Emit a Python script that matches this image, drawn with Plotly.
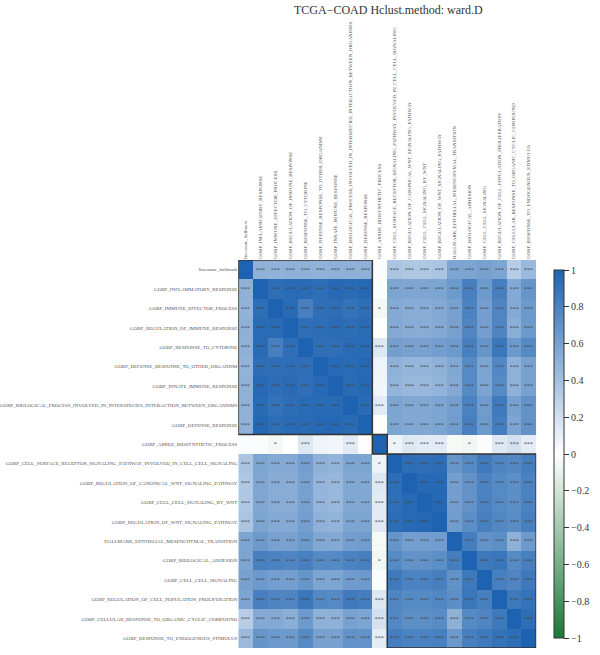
import plotly.graph_objects as go

labels = [
    "Itaconate_hallmark",
    "GOBP_INFLAMMATORY_RESPONSE",
    "GOBP_IMMUNE_EFFECTOR_PROCESS",
    "GOBP_REGULATION_OF_IMMUNE_RESPONSE",
    "GOBP_RESPONSE_TO_CYTOKINE",
    "GOBP_DEFENSE_RESPONSE_TO_OTHER_ORGANISM",
    "GOBP_INNATE_IMMUNE_RESPONSE",
    "GOBP_BIOLOGICAL_PROCESS_INVOLVED_IN_INTERSPECIES_INTERACTION_BETWEEN_ORGANISMS",
    "GOBP_DEFENSE_RESPONSE",
    "GOBP_AMIDE_BIOSYNTHETIC_PROCESS",
    "GOBP_CELL_SURFACE_RECEPTOR_SIGNALING_PATHWAY_INVOLVED_IN_CELL_CELL_SIGNALING",
    "GOBP_REGULATION_OF_CANONICAL_WNT_SIGNALING_PATHWAY",
    "GOBP_CELL_CELL_SIGNALING_BY_WNT",
    "GOBP_REGULATION_OF_WNT_SIGNALING_PATHWAY",
    "HALLMARK_EPITHELIAL_MESENCHYMAL_TRANSITION",
    "GOBP_BIOLOGICAL_ADHESION",
    "GOBP_CELL_CELL_SIGNALING",
    "GOBP_REGULATION_OF_CELL_POPULATION_PROLIFERATION",
    "GOBP_CELLULAR_RESPONSE_TO_ORGANIC_CYCLIC_COMPOUND",
    "GOBP_RESPONSE_TO_ENDOGENOUS_STIMULUS",
]

corr = [
    [1.00, .50, .49, .50, .50, .49, .50, .50, .50, .02, .38, .36, .36, .38, .58, .58, .60, .58, .32, .45],
    [.50, 1.00, .93, .95, .95, .93, .96, .95, .97, .02, .58, .57, .57, .58, .65, .82, .65, .82, .55, .68],
    [.49, .93, 1.00, .95, .82, .92, .93, .90, .93, -.05, .55, .53, .53, .55, .60, .80, .62, .78, .55, .65],
    [.50, .95, .95, 1.00, .92, .93, .95, .93, .95, .00, .55, .53, .53, .55, .60, .78, .62, .78, .52, .65],
    [.50, .95, .82, .92, 1.00, .92, .92, .95, .95, .15, .62, .60, .60, .62, .65, .82, .68, .87, .65, .75],
    [.49, .93, .92, .93, .92, 1.00, .96, .95, .96, .07, .50, .47, .47, .50, .56, .75, .58, .76, .50, .60],
    [.50, .96, .93, .95, .92, .96, 1.00, .95, .97, .06, .48, .46, .46, .48, .55, .75, .58, .75, .50, .60],
    [.50, .95, .90, .93, .95, .95, .95, 1.00, .95, .13, .58, .56, .56, .58, .62, .80, .64, .85, .60, .70],
    [.50, .97, .93, .95, .95, .96, .97, .95, 1.00, .01, .58, .56, .56, .58, .63, .82, .65, .83, .58, .70],
    [.02, .02, -.05, .00, .15, .07, .06, .13, .01, 1.00, .08, .15, .13, .13, -.04, -.06, .02, .15, .20, .12],
    [.38, .58, .55, .55, .62, .50, .48, .58, .58, .08, 1.00, .93, .92, .93, .68, .75, .85, .78, .76, .83],
    [.36, .57, .53, .53, .60, .47, .46, .56, .56, .15, .93, 1.00, .96, .96, .62, .70, .80, .75, .72, .80],
    [.36, .57, .53, .53, .60, .47, .46, .56, .56, .13, .92, .96, 1.00, .97, .62, .70, .80, .75, .72, .80],
    [.38, .58, .55, .55, .62, .50, .48, .58, .58, .13, .93, .96, .97, 1.00, .63, .72, .82, .77, .74, .82],
    [.58, .65, .60, .60, .65, .56, .55, .62, .63, -.04, .68, .62, .62, .63, 1.00, .83, .70, .72, .50, .65],
    [.58, .82, .80, .78, .82, .75, .75, .80, .82, -.06, .75, .70, .70, .72, .83, 1.00, .86, .88, .75, .82],
    [.60, .65, .62, .62, .68, .58, .58, .64, .65, .02, .85, .80, .80, .82, .70, .86, 1.00, .82, .78, .85],
    [.58, .82, .78, .78, .87, .76, .75, .85, .83, .15, .78, .75, .75, .77, .72, .88, .82, 1.00, .86, .90],
    [.32, .55, .55, .52, .65, .50, .50, .60, .58, .20, .76, .72, .72, .74, .50, .75, .78, .86, 1.00, .93],
    [.45, .68, .65, .65, .75, .60, .60, .70, .70, .12, .83, .80, .80, .82, .65, .82, .85, .90, .93, 1.00],
]

# significance stars for the AMIDE row/column (index 9); all others "***"
sig_amide = ["", "", "*", "", "***", "", "", "***", "", "", "*", "***", "***", "***", "", "*", "", "***", "***", "***"]
amide_idx = 9

# hclust clusters (start, end index)
clusters = [(0, 8), (9, 9), (10, 19)]

n = len(labels)
sig = []
for i in range(n):
    row = []
    for j in range(n):
        if i == j:
            row.append("")
        elif i == amide_idx:
            row.append(sig_amide[j])
        elif j == amide_idx:
            row.append(sig_amide[i])
        else:
            row.append("***")
    sig.append(row)

idx = list(range(n))
W, H = 600, 655
x0p, x1p = 242, 555
y0p, y1p = 260, 648

fig = go.Figure(go.Heatmap(
    z=corr, x=idx, y=idx, text=sig, texttemplate="%{text}",
    textfont=dict(family="Liberation Serif", size=6, color="#444"),
    zmin=-1, zmax=1,
    colorscale=[[0, "rgb(27,120,55)"], [0.5, "rgb(255,255,255)"], [1, "rgb(30,99,177)"]],
    hoverinfo="skip",
    colorbar=dict(
        x=563 / W, xanchor="left", y=1 - y1p / H, yanchor="bottom",
        len=(y1p - y0p) / H, lenmode="fraction", thickness=10, thicknessmode="pixels",
        outlinewidth=1, outlinecolor="#333",
        tickmode="array", tickvals=[-1, -0.8, -0.6, -0.4, -0.2, 0, 0.2, 0.4, 0.6, 0.8, 1],
        ticks="outside", ticklen=5, tickcolor="#333",
        tickfont=dict(family="Liberation Serif", size=10, color="#333"),
    ),
))

for a, b in clusters:
    fig.add_shape(type="rect", xref="x", yref="y", x0=a - 0.5, x1=b + 0.5, y0=a - 0.5, y1=b + 0.5,
                  line=dict(color="#333", width=1.5))

fig.update_layout(
    width=W, height=H, margin=dict(l=0, r=0, t=0, b=0),
    paper_bgcolor="white", plot_bgcolor="white",
    xaxis=dict(domain=[x0p / W, x1p / W], side="top", tickmode="array", tickvals=idx, ticktext=labels,
               tickangle=-90, showgrid=False, zeroline=False, ticks="", range=[-0.5, n - 0.5],
               tickfont=dict(family="Liberation Serif", size=5, color="#555")),
    yaxis=dict(domain=[1 - y1p / H, 1 - y0p / H], tickmode="array", tickvals=idx, ticktext=labels,
               autorange=False, range=[n - 0.5, -0.5], showgrid=False, zeroline=False, ticks="",
               tickfont=dict(family="Liberation Serif", size=5, color="#555")),
    annotations=[dict(text="TCGA\u2212COAD Hclust.method: ward.D", x=400 / W, y=1 - 1 / H,
                      xref="paper", yref="paper", xanchor="center", yanchor="top", showarrow=False,
                      font=dict(family="Liberation Serif", size=12, color="#333"))],
)

fig.write_html("out.html")
